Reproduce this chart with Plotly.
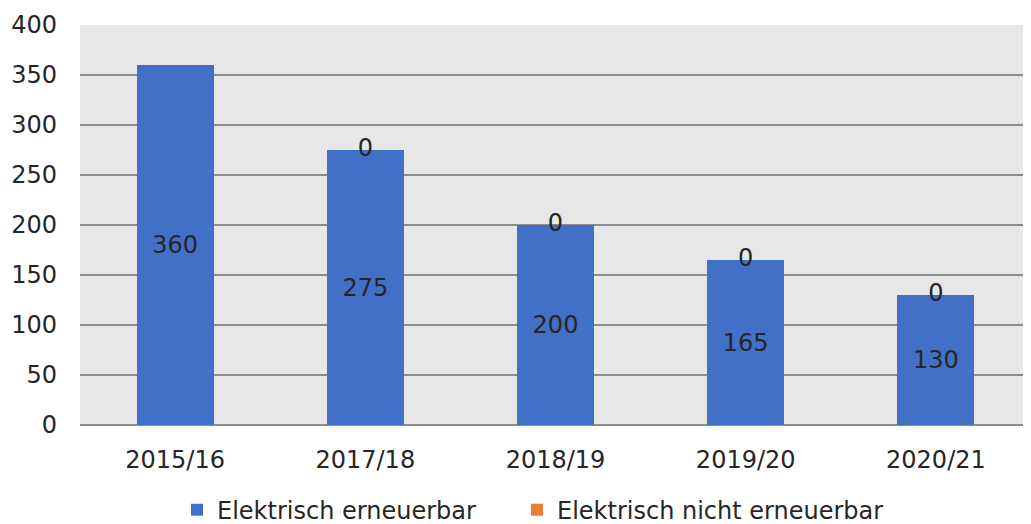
import plotly.graph_objects as go

categories = ["2015/16", "2017/18", "2018/19", "2019/20", "2020/21"]
erneuerbar = [360, 275, 200, 165, 130]
nicht_erneuerbar = [None, 0, 0, 0, 0]
y_ticks = [0, 50, 100, 150, 200, 250, 300, 350, 400]

FONT = "DejaVu Sans"
TXT = "#262626"
FS = 24

fig = go.Figure()
fig.add_trace(go.Bar(
    x=categories, y=erneuerbar, name="Elektrisch erneuerbar",
    marker=dict(color="#4170c6", line=dict(width=0)),
    text=[str(v) for v in erneuerbar], textposition="inside",
    insidetextanchor="middle", textangle=0,
    textfont=dict(family=FONT, size=FS, color=TXT),
    legend="legend",
))
fig.add_trace(go.Bar(
    x=categories, y=[v if v is not None else 0 for v in nicht_erneuerbar],
    name="Elektrisch nicht erneuerbar",
    marker=dict(color="#ed7d31", line=dict(width=0)),
    legend="legend2",
))
label_y = [e + (n if n is not None else 0) for e, n in zip(erneuerbar, nicht_erneuerbar)]
fig.add_trace(go.Scatter(
    x=categories, y=label_y, mode="text",
    text=["" if n is None else str(n) for n in nicht_erneuerbar],
    textposition="middle center",
    textfont=dict(family=FONT, size=FS, color=TXT),
    showlegend=False, hoverinfo="skip", cliponaxis=False,
))

legend_common = dict(orientation="h", xanchor="left", y=0.027, yanchor="middle",
                     yref="container", font=dict(family=FONT, size=FS, color=TXT),
                     itemwidth=30, bgcolor="rgba(0,0,0,0)", tracegroupgap=0)

fig.update_layout(
    barmode="stack",
    bargap=0.595,
    width=1023, height=516,
    margin=dict(l=72, r=0, t=17, b=99, autoexpand=False),
    paper_bgcolor="white",
    plot_bgcolor="#e7e7e7",
    font=dict(family=FONT, size=FS, color=TXT),
    legend=dict(x=0.102, **legend_common),
    legend2=dict(x=0.4595, **legend_common),
    showlegend=True,
)
fig.update_xaxes(showgrid=False, ticks="", ticklabelstandoff=18, automargin=False,
                 tickfont=dict(family=FONT, size=FS, color=TXT))
fig.update_yaxes(range=[0, 400], tickvals=y_ticks, showgrid=True, automargin=False,
                 gridcolor="#8c8c8c", gridwidth=2, zeroline=True, zerolinecolor="#8c8c8c",
                 zerolinewidth=2, ticks="", ticklabelstandoff=22,
                 tickfont=dict(family=FONT, size=FS, color=TXT))

fig.write_html("out.html")
